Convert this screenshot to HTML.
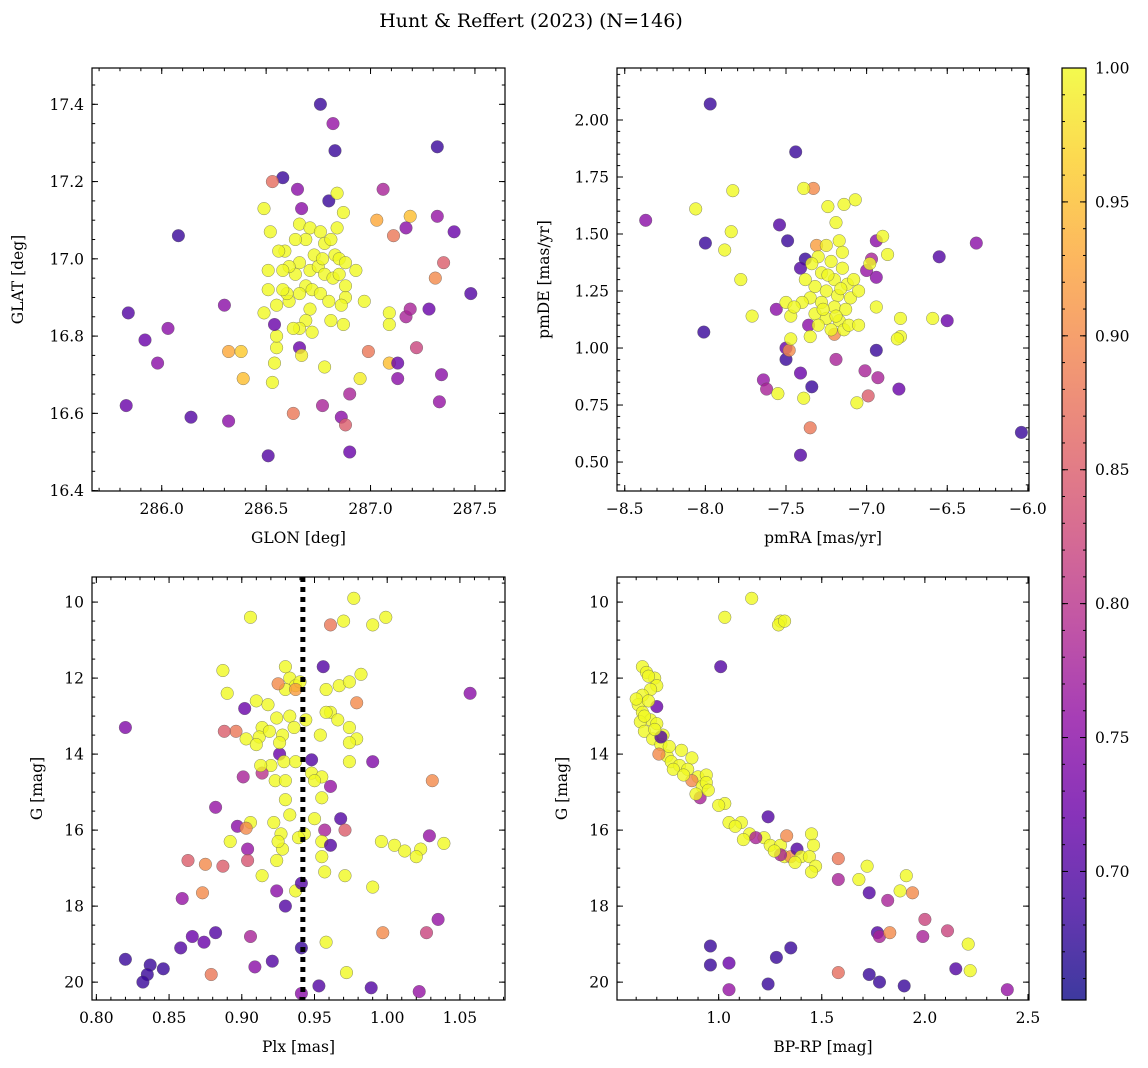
<!DOCTYPE html>
<html><head><meta charset="utf-8">
<style>
html,body{margin:0;padding:0;background:#fff;}
svg{display:block;font-family:"DejaVu Serif","Liberation Serif",serif;}
</style></head>
<body>
<svg id="fig" width="1148" height="1068" viewBox="0 0 1148 1068" xmlns="http://www.w3.org/2000/svg">
<defs>
<linearGradient id="plasmaGrad" x1="0" y1="1" x2="0" y2="0">
<stop offset="0" stop-color="#0d0887"/><stop offset="0.1" stop-color="#41049d"/><stop offset="0.2" stop-color="#6a00a8"/><stop offset="0.3" stop-color="#8f0da4"/><stop offset="0.4" stop-color="#b12a90"/><stop offset="0.5" stop-color="#cc4778"/><stop offset="0.6" stop-color="#e16462"/><stop offset="0.7" stop-color="#f2844b"/><stop offset="0.8" stop-color="#fca636"/><stop offset="0.9" stop-color="#fcce25"/><stop offset="1" stop-color="#f0f921"/>
</linearGradient>
</defs>
<text x="531" y="27" text-anchor="middle" font-size="19">Hunt &amp; Reffert (2023) (N=146)</text>
</svg>
<script>
// ---- Panel 1: GLON vs GLAT ----
const p1_lon=[286.76,286.82,286.83,287.32,286.58,286.65,286.53,286.80,286.08,286.67,287.06,287.32,287.40,287.19,287.17,287.11,287.03,287.35,287.31,287.48,285.84,286.30,285.92,286.03,285.98,285.83,286.14,286.32,286.51,286.39,286.38,286.32,286.63,286.77,286.86,286.88,286.90,286.95,286.90,286.99,287.09,287.13,287.13,287.33,287.34,287.22,287.28,287.17,287.19,287.09,287.09,286.97,286.93,286.87,286.84,286.54,286.53,286.55,286.55,286.66,286.67,286.78,286.49,286.52,286.54,286.49,286.55,
286.66,286.69,286.71,286.76,286.78,286.73,286.81,286.83,286.85,286.88,286.66,286.64,286.61,286.59,286.58,286.71,286.75,286.78,286.82,286.85,286.69,286.72,286.76,286.66,286.61,286.88,286.88,286.86,286.87,286.81,286.80,286.71,286.69,286.66,286.72,286.63,286.60,286.58,286.64,286.77,286.84,286.51,286.51,286.56];
const p1_lat=[17.40,17.35,17.28,17.29,17.21,17.18,17.20,17.15,17.06,17.13,17.18,17.11,17.07,17.11,17.08,17.06,17.10,16.99,16.95,16.91,16.86,16.88,16.79,16.82,16.73,16.62,16.59,16.58,16.49,16.69,16.76,16.76,16.60,16.62,16.59,16.57,16.65,16.69,16.50,16.76,16.73,16.73,16.69,16.63,16.70,16.77,16.87,16.85,16.87,16.86,16.83,16.89,16.97,17.12,17.17,16.73,16.68,16.77,16.80,16.77,16.75,16.72,17.13,17.07,16.83,16.86,16.88,
17.09,17.05,17.08,17.07,17.04,17.01,17.05,17.01,17.00,16.99,16.99,16.96,16.98,17.02,16.97,16.97,16.98,16.96,16.95,16.96,16.93,16.92,16.91,16.91,16.89,16.93,16.90,16.88,16.83,16.84,16.89,16.87,16.84,16.82,16.81,16.82,16.91,16.92,17.05,17.00,17.08,16.97,16.92,17.02];
const p1_prob=[0.68,0.76,0.68,0.68,0.68,0.75,0.87,0.68,0.68,0.75,0.78,0.76,0.72,0.95,0.75,0.88,0.93,0.85,0.90,0.70,0.70,0.75,0.72,0.75,0.75,0.72,0.70,0.75,0.70,0.95,0.96,0.93,0.88,0.78,0.75,0.85,0.78,0.99,0.72,0.88,0.95,0.72,0.75,0.76,0.75,0.82,0.72,0.78,0.78,1.0,1.0,1.0,1.0,1.0,1.0,1.0,1.0,1.0,1.0,0.72,0.99,1.0,1.0,1.0,0.72,1.0,1.0,
1.0,1.0,1.0,1.0,1.0,1.0,1.0,1.0,1.0,1.0,1.0,1.0,1.0,1.0,1.0,1.0,1.0,1.0,1.0,1.0,1.0,1.0,1.0,1.0,1.0,1.0,1.0,1.0,1.0,1.0,1.0,1.0,1.0,1.0,1.0,1.0,1.0,1.0,1.0,1.0,1.0,1.0,1.0,1.0];
const p1_xticks=[286.0,286.5,287.0,287.5];
const p1_yticks=[16.4,16.6,16.8,17.0,17.2,17.4];

// ---- Panel 2: proper motions ----
const p2_pmra=[-7.97,-7.44,-8.37,-8.0,-8.01,-6.55,-6.32,-6.5,-6.04,-7.41,-6.80,-6.99,-7.01,-6.93,-7.35,-7.34,-7.41,-7.64,-7.62,-7.5,-7.5,-7.48,-7.56,-7.54,-7.49,-7.33,-6.94,-6.94,-6.97,-6.94,-7.0,-7.2,-7.19,-7.36,-7.38,-7.41,-7.31,
-8.06,-7.83,-7.84,-7.88,-7.78,-7.71,-6.79,-6.79,-6.94,-7.06,-7.39,-7.55,-7.39,-7.14,-7.07,-7.24,-7.19,-7.17,-6.90,-6.87,-6.98,-6.59,-6.81,-7.5,-7.47,-7.47,
-7.30,-7.22,-7.15,-7.28,-7.20,-7.12,-7.32,-7.25,-7.18,-7.10,-7.35,-7.28,-7.20,-7.13,-7.32,-7.25,-7.17,-7.30,-7.22,-7.14,-7.38,-7.40,-7.08,-7.05,-7.25,-7.15,-7.34,-7.24,-7.16,-7.27,-7.19,-7.11,-7.35,-7.45,-7.05];
const p2_pmde=[2.07,1.86,1.56,1.46,1.07,1.40,1.46,1.12,0.63,0.53,0.82,0.79,0.90,0.87,0.65,0.83,0.89,0.86,0.82,0.95,1.00,0.99,1.17,1.54,1.47,1.70,0.99,1.47,1.39,1.31,1.34,1.06,0.95,1.10,1.39,1.35,1.45,
1.61,1.69,1.51,1.43,1.30,1.14,1.13,1.05,1.18,0.76,0.78,0.80,1.70,1.63,1.65,1.62,1.55,1.47,1.49,1.41,1.37,1.13,1.04,1.20,1.14,1.04,
1.40,1.38,1.35,1.33,1.30,1.28,1.27,1.25,1.23,1.22,1.22,1.20,1.18,1.17,1.15,1.13,1.12,1.10,1.08,1.08,1.30,1.20,1.30,1.25,1.45,1.42,1.37,1.32,1.26,1.17,1.14,1.10,1.05,1.18,1.10];
const p2_prob=[0.68,0.68,0.75,0.68,0.68,0.70,0.75,0.72,0.68,0.70,0.72,0.85,0.78,0.78,0.88,0.68,0.72,0.76,0.78,0.68,0.72,0.90,0.75,0.70,0.68,0.90,0.68,0.75,0.78,0.75,0.76,0.90,0.78,0.75,0.68,0.70,0.92,
1.0,1.0,1.0,1.0,1.0,1.0,1.0,1.0,1.0,1.0,1.0,1.0,1.0,1.0,1.0,1.0,1.0,1.0,1.0,1.0,1.0,1.0,1.0,1.0,1.0,1.0,
1.0,1.0,1.0,1.0,1.0,1.0,1.0,1.0,1.0,1.0,1.0,1.0,1.0,1.0,1.0,1.0,1.0,1.0,1.0,1.0,1.0,1.0,1.0,1.0,0.99,1.0,1.0,1.0,1.0,1.0,1.0,1.0,1.0,1.0,1.0];
const p2_xticks=[-8.5,-8.0,-7.5,-7.0,-6.5,-6.0];
const p2_yticks=[0.50,0.75,1.00,1.25,1.50,1.75,2.00];

// ---- Panel 3: parallax vs G ----
const p3_plx=[0.977,0.999,0.990,0.961,0.970,0.906,0.933,0.937,0.930,0.940,0.956,0.961,0.958,0.967,0.974,0.982,0.979,0.937,0.930,0.925,0.887,0.890,0.902,0.910,0.918,0.924,0.933,0.914,0.912,0.903,0.910,0.896,0.888,0.919,0.928,0.936,0.944,0.958,0.966,0.954,0.974,0.979,0.974,0.974,0.926,0.920,0.923,0.930,0.926,0.929,0.937,0.948,0.948,0.955,0.961,0.955,0.950,0.990,1.031,0.901,0.914,0.913,0.882,0.897,0.906,0.903,0.922,0.930,0.933,0.950,0.968,0.971,0.957,0.955,0.961,0.955,0.943,0.939,0.927,0.928,0.924,0.925,0.904,0.904,0.887,0.892,0.863,0.875,0.914,0.924,0.937,0.941,0.957,0.971,1.005,1.012,1.023,1.020,1.029,1.039,0.996,0.990,0.873,0.930,0.882,0.906,0.958,0.997,1.027,1.035,0.921,0.941,0.909,0.879,0.972,0.941,0.953,0.989,1.022,
0.820,0.837,0.835,0.832,0.846,0.858,0.866,0.874,0.859,0.820,1.057];
const p3_g=[9.9,10.4,10.6,10.6,10.5,10.4,12.0,12.2,12.3,12.1,11.7,12.9,12.3,12.2,12.1,11.9,12.65,12.3,11.7,12.15,11.8,12.4,12.8,12.6,12.7,13.05,13.0,13.3,13.55,13.6,13.75,13.4,13.4,13.4,13.5,13.3,13.1,12.9,13.1,13.5,13.3,13.6,14.2,13.7,14.0,14.3,14.7,14.7,13.7,14.2,14.2,14.15,14.5,14.6,14.85,15.15,14.7,14.2,14.7,14.6,14.5,14.3,15.4,15.9,15.8,15.95,15.8,15.2,15.6,15.7,15.7,16.0,16.0,16.3,16.4,16.7,16.1,16.2,16.1,16.5,16.8,16.3,16.5,16.8,16.95,16.3,16.8,16.9,17.2,17.6,17.6,17.4,17.1,17.2,16.4,16.55,16.5,16.7,16.15,16.35,16.3,17.5,17.65,18.0,18.7,18.8,18.95,18.7,18.7,18.35,19.45,19.1,19.6,19.8,19.75,20.3,20.1,20.15,20.25,
19.4,19.55,19.8,20.0,19.65,19.1,18.8,18.95,17.8,13.3,12.4];
const p3_prob=[1.0,1.0,1.0,0.88,1.0,1.0,1.0,1.0,1.0,1.0,0.70,1.0,1.0,1.0,1.0,1.0,0.90,0.92,1.0,0.90,1.0,1.0,0.72,1.0,1.0,1.0,1.0,1.0,1.0,1.0,1.0,0.88,0.85,1.0,1.0,1.0,1.0,1.0,1.0,1.0,1.0,1.0,1.0,1.0,0.72,1.0,1.0,1.0,1.0,1.0,1.0,0.70,1.0,1.0,0.76,1.0,1.0,0.74,0.90,0.78,0.80,1.0,0.76,0.75,1.0,0.90,1.0,1.0,1.0,1.0,0.70,0.85,0.78,1.0,0.70,1.0,1.0,1.0,1.0,1.0,1.0,1.0,0.76,0.84,0.85,1.0,0.85,0.90,1.0,0.75,1.0,0.70,1.0,1.0,1.0,1.0,1.0,1.0,0.76,1.0,1.0,1.0,0.90,0.70,0.70,0.78,1.0,0.90,0.82,0.76,0.70,0.68,0.75,0.88,1.0,0.75,0.70,0.70,0.76,
0.68,0.68,0.68,0.68,0.68,0.70,0.72,0.72,0.76,0.74,0.75];
const p3_xticks=[0.80,0.85,0.90,0.95,1.00,1.05];
const p3_yticks=[10,12,14,16,18,20];
const p3_plxLine=[0.942];

// ---- Panel 4: CMD ----
const p4_bprp=[1.16,1.03,1.30,1.29,1.32,1.01,0.63,0.65,0.69,0.70,0.67,0.63,0.61,0.63,0.67,0.70,0.62,0.64,0.68,0.72,0.75,0.77,0.81,0.73,0.70,0.72,0.71,0.76,0.82,0.87,0.85,0.90,0.87,0.92,0.94,0.94,0.91,0.95,1.03,1.05,1.11,1.08,1.15,1.24,1.22,1.18,1.25,1.30,1.33,1.32,1.35,1.38,1.40,1.30,1.45,1.46,1.44,1.47,1.45,1.58,1.58,1.72,1.68,1.73,1.82,1.91,1.88,1.94,2.00,2.11,2.21,2.15,2.22,2.40,1.77,1.78,1.83,1.99,
0.96,0.96,1.05,1.28,1.35,1.05,1.24,1.58,1.73,1.78,1.90,
0.66,0.60,0.66,0.64,0.69,0.78,0.83,0.89,1.00,1.12,1.37,1.27];
const p4_g=[9.9,10.4,10.5,10.6,10.5,11.7,11.7,11.85,12.0,12.2,12.3,12.45,12.7,12.9,13.1,13.2,13.15,13.4,13.6,13.75,14.05,14.2,14.3,13.5,12.75,13.55,14.0,13.8,13.9,14.1,14.4,14.6,14.7,14.85,14.55,14.75,15.15,14.95,15.3,15.8,15.8,15.9,16.1,15.65,16.2,16.2,16.4,16.4,16.15,16.7,16.7,16.5,16.7,16.65,16.1,16.4,16.7,16.95,17.1,16.75,17.3,16.95,17.3,17.65,17.85,17.2,17.6,17.65,18.35,18.65,19.0,19.65,19.7,20.2,18.7,18.8,18.7,18.8,
19.05,19.55,19.5,19.35,19.1,20.2,20.05,19.75,19.8,20.0,20.1,
11.95,12.55,12.6,13.0,13.35,14.4,14.55,15.05,15.35,16.25,16.85,16.55];
const p4_prob=[1.0,1.0,1.0,1.0,1.0,0.70,1.0,1.0,1.0,1.0,1.0,1.0,1.0,1.0,1.0,1.0,1.0,1.0,1.0,1.0,1.0,1.0,1.0,1.0,0.72,0.70,0.90,1.0,1.0,1.0,1.0,1.0,0.90,1.0,1.0,1.0,0.78,1.0,1.0,1.0,1.0,1.0,1.0,0.70,1.0,0.78,1.0,1.0,0.90,1.0,0.90,0.70,1.0,0.78,1.0,1.0,1.0,1.0,1.0,0.88,0.78,1.0,1.0,0.70,0.78,1.0,1.0,0.90,0.82,0.82,1.0,0.70,1.0,0.76,0.70,0.78,0.90,0.78,
0.68,0.68,0.72,0.68,0.68,0.76,0.68,0.87,0.68,0.68,0.68,
1.0,1.0,1.0,1.0,1.0,1.0,1.0,1.0,1.0,1.0,1.0,1.0];
const p4_xticks=[1.0,1.5,2.0,2.5];
const p4_yticks=[10,12,14,16,18,20];

// ---- Colorbar ----
const cb_ticks=[0.70,0.75,0.80,0.85,0.90,0.95,1.00];
const cb_range=[0.652,1.0];

const NS='http://www.w3.org/2000/svg';
const svg=document.getElementById('fig');
function mk(tag,attrs,parent){const e=document.createElementNS(NS,tag);for(const k in attrs)e.setAttribute(k,attrs[k]);(parent||svg).appendChild(e);return e;}

const stops=[[13,8,135],[65,4,157],[106,0,168],[143,13,164],[177,42,144],[204,71,120],[225,100,98],[242,132,75],[252,166,54],[252,206,37],[240,249,33]];
function plasma(t){t=Math.max(0,Math.min(1,t));const s=t*10;const i=Math.min(9,Math.floor(s));const f=s-i;const a=stops[i],b=stops[i+1];
return 'rgb('+Math.round(a[0]+(b[0]-a[0])*f)+','+Math.round(a[1]+(b[1]-a[1])*f)+','+Math.round(a[2]+(b[2]-a[2])*f)+')';}
function fmt(v,d){const s=Math.abs(v).toFixed(d);return (v<-1e-9?'\u2212':'')+s;}

function panel(cfg){
  const g=mk('g',{});
  
  
  const L=cfg.l,R=cfg.r,T=cfg.t,B=cfg.b;
  const sx=v=>L+(v-cfg.xr[0])/(cfg.xr[1]-cfg.xr[0])*(R-L);
  const sy=cfg.inv? (v=>T+(v-cfg.yr[0])/(cfg.yr[1]-cfg.yr[0])*(B-T)) : (v=>B-(v-cfg.yr[0])/(cfg.yr[1]-cfg.yr[0])*(B-T));
  const cid='clip-'+cfg.name;
  const cp=mk('clipPath',{id:cid},g);mk('rect',{x:L,y:T,width:R-L,height:B-T},cp);
  const pts=mk('g',{'clip-path':'url(#'+cid+')'},g);
  
  
  for(let i=0;i<cfg.xs.length;i++){
    const c=mk('circle',{cx:sx(cfg.xs[i]).toFixed(1),cy:sy(cfg.ys[i]).toFixed(1),r:6.3,fill:plasma((cfg.ps[i]-cb_range[0])/(cb_range[1]-cb_range[0])),'fill-opacity':0.8,stroke:'#555','stroke-width':0.5,'stroke-opacity':0.7},pts);
    
    
  }
  if(cfg.vline){for(const v of cfg.vline){const ln=mk('line',{x1:sx(v),x2:sx(v),y1:T,y2:B,stroke:'#000','stroke-width':5,'stroke-dasharray':'5 5'},pts);
    
    }}
  const tk=mk('g',{stroke:'#000','stroke-width':1},g);
  const mj=6,mn=3.2;
  const minorX=[];for(let v=Math.ceil(cfg.xr[0]/cfg.xm-1e-6)*cfg.xm;v<=cfg.xr[1]+1e-9;v+=cfg.xm)minorX.push(v);
  const minorY=[];const ylo=Math.min(cfg.yr[0],cfg.yr[1]),yhi=Math.max(cfg.yr[0],cfg.yr[1]);for(let v=Math.ceil(ylo/cfg.ym-1e-6)*cfg.ym;v<=yhi+1e-9;v+=cfg.ym)minorY.push(v);
  for(const v of minorX){const x=sx(v);mk('line',{x1:x,x2:x,y1:B,y2:B-mn},tk);mk('line',{x1:x,x2:x,y1:T,y2:T+mn},tk);}
  for(const v of minorY){const y=sy(v);mk('line',{x1:L,x2:L+mn,y1:y,y2:y},tk);mk('line',{x1:R,x2:R-mn,y1:y,y2:y},tk);}
  for(const v of cfg.xt){const x=sx(v);if(x<L-1||x>R+1)continue;mk('line',{x1:x,x2:x,y1:B,y2:B-mj},tk);mk('line',{x1:x,x2:x,y1:T,y2:T+mj},tk);
    const t=mk('text',{x:x,y:B+23,'text-anchor':'middle','font-size':15.5},g);t.textContent=fmt(v,cfg.xd);
    
    }
  for(const v of cfg.yt){const y=sy(v);if(y<T-1||y>B+1)continue;mk('line',{x1:L,x2:L+mj,y1:y,y2:y},tk);mk('line',{x1:R,x2:R-mj,y1:y,y2:y},tk);
    const t=mk('text',{x:L-8,y:y+5.5,'text-anchor':'end','font-size':15.5},g);t.textContent=fmt(v,cfg.yd);
    
    }
  const fr=mk('rect',{x:L,y:T,width:R-L,height:B-T,fill:'none',stroke:'#000','stroke-width':1.2},g);
  
  
  const xl=mk('text',{x:(L+R)/2,y:B+52,'text-anchor':'middle','font-size':15.5},g);xl.textContent=cfg.xlab;
  
  
  const yl=mk('text',{x:cfg.ylx,y:(T+B)/2,'text-anchor':'middle','font-size':15.5,transform:'rotate(-90 '+cfg.ylx+' '+(T+B)/2+')'},g);yl.textContent=cfg.ylab;
  
  
}

panel({name:'sky-position-panel',l:92,r:505,t:68,b:491,xr:[285.666,287.644],yr:[16.399,17.494],xs:p1_lon,ys:p1_lat,ps:p1_prob,xt:p1_xticks,yt:p1_yticks,xm:0.1,ym:0.05,xd:1,yd:1,xlab:'GLON [deg]',ylab:'GLAT [deg]',ylx:23});
panel({name:'proper-motion-panel',l:617,r:1029,t:68,b:491,xr:[-8.548,-5.993],yr:[0.373,2.228],xs:p2_pmra,ys:p2_pmde,ps:p2_prob,xt:p2_xticks,yt:p2_yticks,xm:0.1,ym:0.05,xd:1,yd:2,xlab:'pmRA [mas/yr]',ylab:'pmDE [mas/yr]',ylx:549});
panel({name:'parallax-magnitude-panel',l:92,r:505,t:577,b:1000,xr:[0.797,1.081],yr:[9.34,20.47],inv:true,xs:p3_plx,ys:p3_g,ps:p3_prob,xt:p3_xticks,yt:p3_yticks,xm:0.01,ym:0.5,xd:2,yd:0,xlab:'Plx [mas]',ylab:'G [mag]',ylx:42,vline:p3_plxLine});
panel({name:'color-magnitude-panel',l:617,r:1029,t:577,b:1000,xr:[0.507,2.505],yr:[9.34,20.47],inv:true,xs:p4_bprp,ys:p4_g,ps:p4_prob,xt:p4_xticks,yt:p4_yticks,xm:0.1,ym:0.5,xd:1,yd:0,xlab:'BP-RP [mag]',ylab:'G [mag]',ylx:567});

(function(){
  const L=1062,R=1086,T=68,B=1000;
  const g=mk('g',{});
  
  
  mk('rect',{x:L,y:T,width:R-L,height:B-T,fill:'url(#plasmaGrad)','fill-opacity':0.8},g);
  const cy=v=>B-(v-cb_range[0])/(cb_range[1]-cb_range[0])*(B-T);
  const tk=mk('g',{stroke:'#000','stroke-width':1},g);
  for(let v=0.66;v<=1.0001;v+=0.01){const y=cy(v);mk('line',{x1:R,x2:R-3,y1:y,y2:y},tk);mk('line',{x1:L,x2:L+3,y1:y,y2:y},tk);}
  for(const v of cb_ticks){const y=cy(v);mk('line',{x1:R,x2:R-6,y1:y,y2:y},tk);mk('line',{x1:L,x2:L+6,y1:y,y2:y},tk);
    const t=mk('text',{x:R+9,y:y+5.5,'font-size':15.5},g);t.textContent=v.toFixed(2);
    
    }
  mk('rect',{x:L,y:T,width:R-L,height:B-T,fill:'none',stroke:'#000','stroke-width':1.2},g);
})();
</script>
</body></html>
